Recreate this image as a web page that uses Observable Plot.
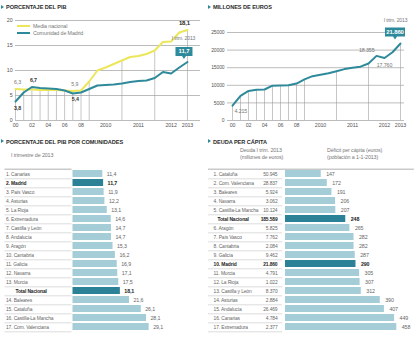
<!DOCTYPE html>
<html lang="es">
<head>
<meta charset="utf-8">
<script src="https://cdn.jsdelivr.net/npm/d3@7"></script>
<script src="https://cdn.jsdelivr.net/npm/@observablehq/plot@0.6"></script>
<style>
  html, body { margin: 0; padding: 0; background: #fff; }
  #root { position: relative; width: 414px; height: 341px; overflow: hidden; background: #fff;
    font-family: "Liberation Sans Narrow", "Liberation Sans", Arial, sans-serif; }
  #root svg text { letter-spacing: -0.12px; }
  .abs { position: absolute; white-space: nowrap; }
  .tit { font-size: 5.6px; font-weight: bold; color: #2b2b2b; line-height: 6px; letter-spacing: -0.05px; }
  .bul { width: 0; height: 0; border-left: 3.5px solid #2e8a9b; border-top: 2.5px solid transparent; border-bottom: 2.5px solid transparent; }
  .sub { font-size: 5.3px; color: #777; line-height: 6px; letter-spacing: -0.1px; }
  .sw { height: 2px; width: 13px; }
</style>
</head>
<body>
<div id="root"></div>
<script>
// ---------- DATOS ----------
const periodos = ["2000","2001","2002","2003","2004","2005","2006","2007","2008",
  "2010-I","2010-II","2010-III","2010-IV","2011-I","2011-II","2011-III","2011-IV",
  "2012-I","2012-II","2012-III","2012-IV","2013-I"];
const mediaNacional = [6.3, 6.2, 6.2, 6.1, 6.1, 6.1, 6.0, 5.9, 6.0, 7.8, 10.0, 10.6, 11.3, 12.0, 12.7, 12.9, 13.3, 14.0, 15.7, 15.8, 17.6, 18.1];
const comunidadMadridPIB = [3.8, 5.6, 6.7, 6.5, 6.4, 6.3, 6.0, 5.4, 5.6, 6.3, 7.0, 7.1, 7.2, 7.4, 7.7, 7.9, 8.0, 8.5, 9.7, 9.4, 10.6, 11.7];
const deudaMadrid = [4215, 7000, 8400, 8750, 8800, 9900, 9950, 10000, 10500, 11700, 12600, 13000, 13400, 14000, 14600, 15000, 15300, 16200, 18355, 17760, 19400, 21860];
const ticksPIB = [0, 5, 10, 15, 20];
const ticksDeuda = [0, 5000, 10000, 15000, 20000, 25000];
const xTickIdx = [0, 2, 4, 6, 8, 11, 15, 19, 21];
const xTickLabels = ["00", "02", "04", "06", "08", "2010", "2011", "2012", "2013"];
const notaTrim = "I trim. 2013";

const comunidadesPIB = ["Canarias","Madrid","País Vasco","Asturias","La Rioja","Extremadura","Castilla y León","Andalucía","Aragón","Cantabria","Galicia","Navarra","Murcia","Total Nacional","Baleares","Cataluña","Castilla-La Mancha","Com. Valenciana"];
const pibComunidades = [11.4, 11.7, 11.9, 12.2, 13.1, 14.6, 14.7, 14.7, 15.3, 16.2, 16.9, 17.1, 17.5, 18.1, 21.6, 26.1, 28.1, 29.1];

const comunidadesDeuda = ["Cataluña","Com. Valenciana","Baleares","Navarra","Castilla-La Mancha","Total Nacional","Aragón","País Vasco","Cantabria","Galicia","Madrid","Murcia","La Rioja","Castilla y León","Asturias","Andalucía","Canarias","Extremadura"];
const deudaComunidades = [50945, 28837, 5924, 3062, 10124, 185589, 5825, 7762, 2084, 9462, 21860, 4791, 1022, 8370, 2884, 26469, 4784, 2377];
const deficitPerCapita = [147, 172, 191, 206, 207, 248, 265, 282, 282, 287, 290, 305, 307, 312, 390, 407, 449, 458];

// ---------- ESTILO ----------
const TEAL = "#2e8a9b", YELLOW = "#ece65a", LIGHT = "#a4cdd8", DARK = "#2b8196";
const FONT = '"Liberation Sans Narrow","Liberation Sans",Arial,sans-serif';
const style = {fontFamily: FONT, fontSize: "5.3px", color: "#555", background: "transparent", overflow: "visible"};
const fmtDec = v => v.toFixed(1).replace(".", ",");
const es = d3.formatLocale({decimal: ",", thousands: ".", grouping: [3], currency: ["", " €"]});
const fmtMil = es.format(",d");

const root = document.getElementById("root");
function html(text, x, y, cls, extra = {}) {
  const d = document.createElement("div");
  d.className = "abs " + cls; d.textContent = text;
  d.style.left = x + "px"; d.style.top = y + "px";
  Object.assign(d.style, extra); root.append(d); return d;
}
function place(svg, x, y) {
  const d = document.createElement("div");
  d.className = "abs"; d.style.left = x + "px"; d.style.top = y + "px";
  d.append(svg); root.append(d);
}
const boxSymbol = (w, h) => ({
  draw(ctx) {
    ctx.moveTo(-w / 2, -h / 2); ctx.lineTo(w / 2, -h / 2); ctx.lineTo(w / 2, h / 2);
    ctx.lineTo(2, h / 2); ctx.lineTo(0, h / 2 + 3); ctx.lineTo(-2, h / 2);
    ctx.lineTo(-w / 2, h / 2); ctx.closePath();
  }
});

const idx = d3.range(periodos.length);
const last = periodos.length - 1;
const dropIdx = idx.filter(i => !periodos[i].includes("-") || periodos[i].endsWith("-I"));
const tickText = i => xTickLabels[xTickIdx.indexOf(i)];

// ---------- TÍTULOS ----------
html("", 0.5, 4.5, "bul");
html("PORCENTAJE DEL PIB", 6, 4, "tit");
html("", 207.5, 4.5, "bul");
html("MILLONES DE EUROS", 213, 4, "tit");
html("", 0.5, 139, "bul");
html("PORCENTAJE DEL PIB POR COMUNIDADES", 6, 138.5, "tit");
html("", 207.5, 139, "bul");
html("DEUDA PER CÁPITA", 213, 138.5, "tit");
html("I trimestre de 2013", 11, 152, "sub");
html("Deuda I trim. 2013", 240, 147, "sub");
html("(millones de euros)", 240, 153.5, "sub");
html("Déficit per cápita (euros)", 327, 147, "sub");
html("(población a 1-1-2013)", 327, 153.5, "sub");

// ---------- GRÁFICO 1: % PIB ----------
const pib = Plot.plot({
  width: 207, height: 132, marginTop: 20, marginBottom: 12, marginLeft: 15, marginRight: 7,
  x: {domain: [0, 22.59], axis: null},
  y: {domain: [0, 20], axis: null},
  style,
  marks: [
    Plot.ruleY(ticksPIB, {stroke: "#8f8f8f", strokeWidth: 0.6}),
    Plot.axisY({ticks: ticksPIB, tickSize: 0, tickPadding: 3, label: null}),
    Plot.axisX({ticks: xTickIdx, tickFormat: tickText, tickSize: 0, tickPadding: 3, label: null}),
    Plot.ruleX(dropIdx, {x: i => i, y1: 0, y2: i => Math.max(mediaNacional[i], comunidadMadridPIB[i]), stroke: "#a0a0a0", strokeWidth: 0.6}),
    Plot.line(idx, {x: i => i, y: i => mediaNacional[i], stroke: YELLOW, strokeWidth: 2}),
    Plot.line(idx, {x: i => i, y: i => comunidadMadridPIB[i], stroke: TEAL, strokeWidth: 2}),
    Plot.text([0, 7], {x: i => i, y: i => mediaNacional[i], text: i => fmtDec(mediaNacional[i]), dx: 2, dy: -6.5, fill: "#777"}),
    Plot.text([last], {x: i => i, y: i => mediaNacional[i], text: i => fmtDec(mediaNacional[i]), dx: -3, dy: -6.5, fill: "#222", fontWeight: "bold", fontSize: 6}),
    Plot.text([0], {x: i => i, y: i => comunidadMadridPIB[i], text: i => fmtDec(comunidadMadridPIB[i]), dx: 2, dy: 7, fill: "#333", fontWeight: "bold"}),
    Plot.text([7], {x: i => i, y: i => comunidadMadridPIB[i], text: i => fmtDec(comunidadMadridPIB[i]), dx: 2.5, dy: 6, fill: "#333", fontWeight: "bold"}),
    Plot.text([2], {x: i => i, y: i => comunidadMadridPIB[i], text: i => fmtDec(comunidadMadridPIB[i]), dx: 1.5, dy: -6.5, fill: "#333", fontWeight: "bold"}),
    Plot.text([notaTrim], {x: () => last, y: () => comunidadMadridPIB[last], text: d => d, dx: -4, dy: -23.5, fill: "#777", fontSize: 5}),
    Plot.dot([last], {x: i => i, y: i => comunidadMadridPIB[i], symbol: boxSymbol(17, 9), fill: TEAL, stroke: "none", dx: -3.5, dy: -10.5}),
    Plot.text([last], {x: i => i, y: i => comunidadMadridPIB[i], text: i => fmtDec(comunidadMadridPIB[i]), dx: -3.5, dy: -10.5, fill: "white", fontWeight: "bold", fontSize: 6})
  ]
});
place(pib, 0, 0);

// leyenda
html("", 17, 25, "sw", {background: YELLOW});
html("Media nacional", 33, 23, "sub");
html("", 17, 32, "sw", {background: TEAL});
html("Comunidad de Madrid", 33, 30, "sub");

// ---------- GRÁFICO 2: MILLONES ----------
const deuda = Plot.plot({
  width: 207, height: 132, marginTop: 32, marginBottom: 12, marginLeft: 20, marginRight: 10,
  x: {domain: [-0.625, 21.5], axis: null},
  y: {domain: [0, 25000], axis: null},
  style,
  marks: [
    Plot.ruleY(ticksDeuda, {stroke: "#8f8f8f", strokeWidth: 0.6}),
    Plot.axisY({ticks: ticksDeuda, tickFormat: d => String(d), tickSize: 0, tickPadding: 3, label: null, fontSize: 5}),
    Plot.axisX({ticks: xTickIdx, tickFormat: tickText, tickSize: 0, tickPadding: 3, label: null}),
    Plot.ruleX(dropIdx, {x: i => i, y1: 0, y2: i => deudaMadrid[i], stroke: "#a0a0a0", strokeWidth: 0.6}),
    Plot.line(idx, {x: i => i, y: i => deudaMadrid[i], stroke: TEAL, strokeWidth: 2}),
    Plot.text([0], {x: i => i, y: i => deudaMadrid[i], text: i => fmtMil(deudaMadrid[i]), dx: 2, dy: 6, textAnchor: "start", fill: "#777"}),
    Plot.text([18], {x: i => i, y: i => deudaMadrid[i], text: i => fmtMil(deudaMadrid[i]), dx: -2, dy: -6, textAnchor: "end", fill: "#777"}),
    Plot.text([19], {x: i => i, y: i => deudaMadrid[i], text: i => fmtMil(deudaMadrid[i]), dx: 0, dy: 7.5, fill: "#777"}),
    Plot.text([notaTrim], {x: () => last, y: () => deudaMadrid[last], text: d => d, dx: -5, dy: -23, fill: "#777", fontSize: 5}),
    Plot.dot([last], {x: i => i, y: i => deudaMadrid[i], symbol: boxSymbol(20, 9), fill: TEAL, stroke: "none", dx: -5.5, dy: -11.5}),
    Plot.text([last], {x: i => i, y: i => deudaMadrid[i], text: i => fmtMil(deudaMadrid[i]), dx: -5.5, dy: -11.5, fill: "white", fontWeight: "bold", fontSize: 6})
  ]
});
place(deuda, 207, 0);

// ---------- TABLAS DE BARRAS ----------
function buildRows(names, vals, extra) {
  let r = 0;
  return names.map((c, k) => {
    const total = c === "Total Nacional";
    if (!total) r++;
    return {c, v: vals[k], e: extra ? extra[k] : null, total, dest: total || c === "Madrid", label: total ? c : `${r}. ${c}`};
  });
}
const H = 181, mT = 3.2, mB = 4.5, pIn = 0.25, pOut = 0.1;
const step = (H - mT - mB) / (comunidadesPIB.length - pIn + 2 * pOut);
const NAME = 4.9;

const filasPIB = buildRows(comunidadesPIB, pibComunidades);
const barrasPIB = Plot.plot({
  width: 207, height: H, marginTop: mT, marginBottom: mB, marginLeft: 72.5, marginRight: 56,
  x: {domain: [0, 30], axis: null},
  y: {domain: comunidadesPIB, axis: null, paddingInner: pIn, paddingOuter: pOut},
  style,
  marks: [
    Plot.ruleY(comunidadesPIB.slice(0, 1), {y: d => d, x1: -26, x2: -0.4, dy: -step / 2, stroke: "#8c8c8c", strokeWidth: 0.7}),
    Plot.ruleY(comunidadesPIB, {y: d => d, x1: -26, x2: -0.4, dy: step / 2, stroke: "#c4c4c4", strokeWidth: 0.6}),
    Plot.barX(filasPIB.filter(f => !f.dest), {x: "v", y: "c", fill: LIGHT}),
    Plot.barX(filasPIB.filter(f => f.dest), {x: "v", y: "c", fill: DARK}),
    Plot.text(filasPIB.filter(f => !f.dest), {x: -25.6, y: "c", text: "label", textAnchor: "start", fill: "#666", fontSize: NAME}),
    Plot.text(filasPIB.filter(f => f.dest && !f.total), {x: -25.6, y: "c", text: "label", textAnchor: "start", fill: "#222", fontWeight: "bold", fontSize: NAME}),
    Plot.text(filasPIB.filter(f => f.total), {x: -22, y: "c", text: "label", textAnchor: "start", fill: "#222", fontWeight: "bold", fontSize: NAME}),
    Plot.text(filasPIB.filter(f => !f.dest), {x: "v", y: "c", text: f => fmtDec(f.v), dx: 4, textAnchor: "start", fill: "#666"}),
    Plot.text(filasPIB.filter(f => f.dest), {x: "v", y: "c", text: f => fmtDec(f.v), dx: 4, textAnchor: "start", fill: "#222", fontWeight: "bold"})
  ]
});
place(barrasPIB, 0, 160);

const filasDeuda = buildRows(comunidadesDeuda, deficitPerCapita, deudaComunidades);
const barrasDeuda = Plot.plot({
  width: 207, height: H, marginTop: mT, marginBottom: mB, marginLeft: 78, marginRight: 7.5,
  x: {domain: [0, 500], axis: null},
  y: {domain: comunidadesDeuda, axis: null, paddingInner: pIn, paddingOuter: pOut},
  style,
  marks: [
    Plot.ruleY(comunidadesDeuda.slice(0, 1), {y: d => d, x1: -317, x2: 530, dy: -step / 2, stroke: "#8c8c8c", strokeWidth: 0.7}),
    Plot.ruleY(comunidadesDeuda, {y: d => d, x1: -317, x2: -12, dy: step / 2, stroke: "#c4c4c4", strokeWidth: 0.6}),
    Plot.barX(filasDeuda.filter(f => !f.dest), {x: "v", y: "c", fill: LIGHT}),
    Plot.barX(filasDeuda.filter(f => f.dest), {x: "v", y: "c", fill: DARK}),
    Plot.text(filasDeuda.filter(f => !f.dest), {x: -296, y: "c", text: "label", textAnchor: "start", fill: "#666", fontSize: NAME}),
    Plot.text(filasDeuda.filter(f => f.dest && !f.total), {x: -296, y: "c", text: "label", textAnchor: "start", fill: "#222", fontWeight: "bold", fontSize: NAME}),
    Plot.text(filasDeuda.filter(f => f.total), {x: -280, y: "c", text: "label", textAnchor: "start", fill: "#222", fontWeight: "bold", fontSize: NAME}),
    Plot.text(filasDeuda.filter(f => !f.dest), {x: -33, y: "c", text: f => fmtMil(f.e), textAnchor: "end", fill: "#666", fontSize: NAME}),
    Plot.text(filasDeuda.filter(f => f.dest), {x: -33, y: "c", text: f => fmtMil(f.e), textAnchor: "end", fill: "#222", fontWeight: "bold", fontSize: NAME}),
    Plot.text(filasDeuda.filter(f => !f.dest), {x: "v", y: "c", text: f => fmtMil(f.v), dx: 5, textAnchor: "start", fill: "#666"}),
    Plot.text(filasDeuda.filter(f => f.dest), {x: "v", y: "c", text: f => fmtMil(f.v), dx: 5, textAnchor: "start", fill: "#222", fontWeight: "bold"})
  ]
});
place(barrasDeuda, 207, 160);
</script>
</body>
</html>
